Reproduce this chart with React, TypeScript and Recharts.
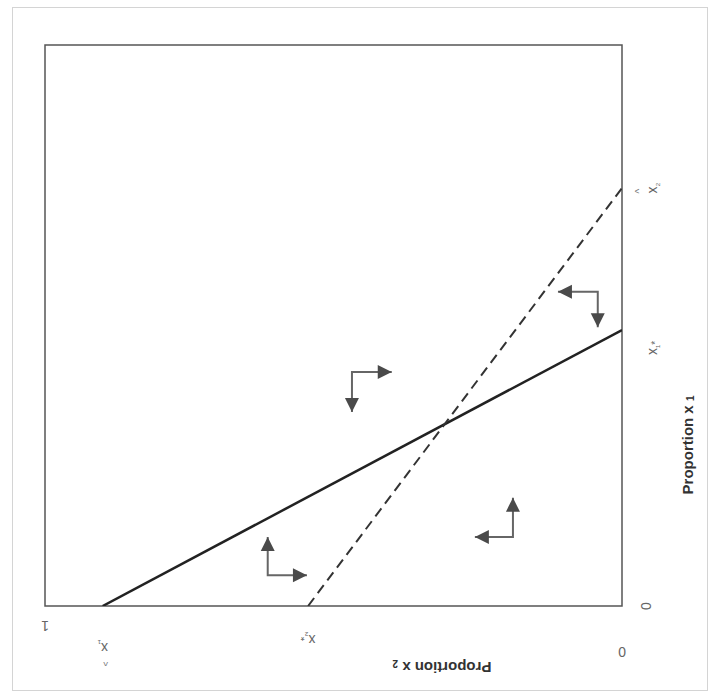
import React from 'react';
import { ComposedChart, Line, Scatter, XAxis, YAxis, ReferenceArea } from 'recharts';

// horizontal axis = proportion x2 (1 on the left, 0 on the right), vertical = proportion x1
const solidLine = [
  { x2: 0.9, x1: 0 },
  { x2: 0, x1: 0.492 },
];
const dashedLine = [
  { x2: 0.544, x1: 0 },
  { x2: 0, x1: 0.745 },
];

// each arrow: first tip, corner, second tip
const arrowTop = [
  { x2: 0.399, x1: 0.417, dir: 'right' },
  { x2: 0.468, x1: 0.417 },
  { x2: 0.468, x1: 0.346, dir: 'down' },
];
const arrowRight = [
  { x2: 0.111, x1: 0.56, dir: 'left' },
  { x2: 0.042, x1: 0.56 },
  { x2: 0.042, x1: 0.497, dir: 'down' },
];
const arrowLow = [
  { x2: 0.189, x1: 0.193, dir: 'up' },
  { x2: 0.189, x1: 0.123 },
  { x2: 0.255, x1: 0.123, dir: 'left' },
];
const arrowLeft = [
  { x2: 0.614, x1: 0.123, dir: 'up' },
  { x2: 0.614, x1: 0.055 },
  { x2: 0.546, x1: 0.055, dir: 'right' },
];
const arrows = [arrowTop, arrowRight, arrowLow, arrowLeft];

const bottomTicks = [0, 0.544, 0.9, 1];
const bottomLabels: Record<string, [string, string, boolean]> = {
  '0': ['0', '', false],
  '0.544': ['x', '₂*', false],
  '0.9': ['x', '₁', true],
  '1': ['1', '', false],
};
const rightTicks = [0, 0.492, 0.745];
const rightLabels: Record<string, [string, string, boolean]> = {
  '0': ['0', '', false],
  '0.492': ['x', '₁*', false],
  '0.745': ['x', '₂', true],
};

const heads = arrows.flatMap((a) => a.filter((p) => p.dir));

const Head = (props: any) => {
  const { cx, cy, payload } = props;
  const L = 14;
  const W = 7;
  let pts = '';
  if (payload.dir === 'up') pts = `${cx},${cy} ${cx - W},${cy + L} ${cx + W},${cy + L}`;
  if (payload.dir === 'down') pts = `${cx},${cy} ${cx - W},${cy - L} ${cx + W},${cy - L}`;
  if (payload.dir === 'left') pts = `${cx},${cy} ${cx + L},${cy - W} ${cx + L},${cy + W}`;
  if (payload.dir === 'right') pts = `${cx},${cy} ${cx - L},${cy - W} ${cx - L},${cy + W}`;
  return <polygon points={pts} fill="#4a4a4a" />;
};

const Sym = ({ label }: { label: [string, string, boolean] }) => (
  <g>
    {label[2] && (
      <text x={-3} y={-13} textAnchor="middle" dominantBaseline="central" fontSize={10} fill="#777">
        ^
      </text>
    )}
    <text x={0} y={0} textAnchor="middle" dominantBaseline="central" fontSize={14} fill="#666">
      {label[0]}
      {label[1] && <tspan fontSize={10} dy={3}>{label[1]}</tspan>}
    </text>
  </g>
);

const BottomTick = (props: any) => {
  const { x, y, payload } = props;
  const v = payload.value;
  const dy = v === 0.9 ? 34 : v === 1 ? 12 : v === 0 ? 38 : 26;
  return (
    <g transform={`translate(${x}, ${y + dy}) rotate(180)`}>
      <Sym label={bottomLabels[String(v)]} />
    </g>
  );
};

const RightTick = (props: any) => {
  const { x, y, payload } = props;
  const v = payload.value;
  const dx = v === 0 ? 16 : 22;
  const dy = v === 0.492 ? 18 : 0;
  return (
    <g transform={`translate(${x + dx}, ${y + dy}) rotate(-90)`}>
      <Sym label={rightLabels[String(v)]} />
    </g>
  );
};

export default function App() {
  return (
    <div style={{ position: 'absolute', left: 0, top: 0, width: 715, height: 694, background: '#fff', fontFamily: 'Liberation Sans, Arial, sans-serif' }}>
      <div style={{ position: 'absolute', left: 12, top: 7, width: 694, height: 682, border: '1px solid #d4d4d4' }} />
      <ComposedChart
        width={715}
        height={694}
        margin={{ top: 45, left: 45, right: 33, bottom: 28 }}
        style={{ position: 'absolute', left: 0, top: 0 }}
      >
        <XAxis
          dataKey="x2"
          type="number"
          domain={[0, 1]}
          reversed
          ticks={bottomTicks}
          tick={<BottomTick />}
          axisLine={false}
          tickLine={false}
          height={60}
          allowDataOverflow
        />
        <YAxis
          dataKey="x1"
          type="number"
          domain={[0, 1]}
          orientation="right"
          ticks={rightTicks}
          tick={<RightTick />}
          axisLine={false}
          tickLine={false}
          width={60}
          allowDataOverflow
        />
        <ReferenceArea x1={0} x2={1} y1={0} y2={1} fill="none" stroke="#555" strokeWidth={1.5} />
        <Line data={solidLine} dataKey="x1" stroke="#222" strokeWidth={2.5} dot={false} isAnimationActive={false} />
        <Line data={dashedLine} dataKey="x1" stroke="#333" strokeWidth={2} strokeDasharray="10 6" dot={false} isAnimationActive={false} />
        {arrows.map((a, i) => (
          <Line key={i} data={a} dataKey="x1" stroke="#666" strokeWidth={2} dot={false} isAnimationActive={false} />
        ))}
        <Scatter data={heads} dataKey="x1" shape={<Head />} isAnimationActive={false} />
        <text
          x={687}
          y={445}
          transform="rotate(-90, 687, 445)"
          textAnchor="middle"
          dominantBaseline="central"
          fontSize={15}
          fontWeight="bold"
          fill="#333"
        >
          Proportion x <tspan fontSize={10} dy={3}>1</tspan>
        </text>
        <text
          x={442}
          y={667}
          transform="rotate(180, 442, 667)"
          textAnchor="middle"
          dominantBaseline="central"
          fontSize={15}
          fontWeight="bold"
          fill="#333"
        >
          Proportion x <tspan fontSize={10} dy={3}>2</tspan>
        </text>
      </ComposedChart>
    </div>
  );
}
